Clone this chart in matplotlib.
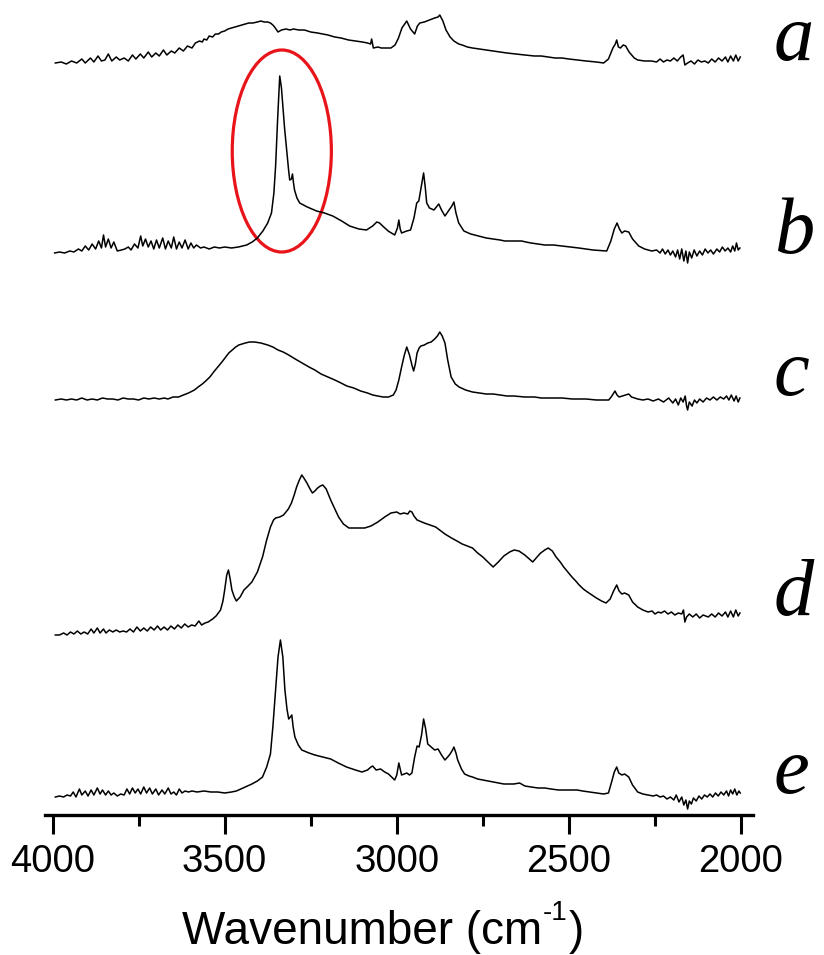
import numpy as np
import matplotlib
matplotlib.use("Agg")
import matplotlib.pyplot as plt
from matplotlib.patches import Ellipse
from matplotlib.ticker import MultipleLocator

# (wavenumber cm-1, intensity above own baseline)
spec_a = [(3992,0),(3975,1),(3960,-1),(3945,2),(3930,0),(3915,4),(3905,0),(3890,5),(3880,1),(3868,7),(3858,2),(3848,3),(3838,9),(3828,2),(3815,6),(3805,3),(3792,5),(3780,2),(3768,8),(3758,4),(3745,9),(3735,5),(3722,11),(3712,6),(3700,10),(3690,7),(3678,13),(3668,8),(3655,12),(3645,10),(3632,15),(3620,12),(3608,17),(3595,15),(3585,20),(3573,22),(3565,21),(3560,24),(3552,23),(3545,27),(3535,26),(3527,29),(3518,29),(3510,31),(3500,32),(3490,34),(3480,35),(3470,36),(3460,37),(3450,38),(3440,39),(3430,40),(3418,40),(3405,41),(3395,42),(3385,41),(3375,41),(3367,40),(3360,38),(3355,36),(3345,31),(3335,33),(3322,34),(3310,33),(3300,34),(3285,33),(3268,33),(3250,31),(3230,30),(3215,29),(3200,28),(3180,26),(3162,25),(3140,23),(3120,22),(3100,21),(3085,20),(3076,19),(3073,24),(3068,15),(3055,16),(3045,15),(3030,15),(3017,15),(3005,18),(2995,25),(2985,35),(2971,42),(2960,34),(2948,29),(2940,37),(2933,40),(2920,41),(2905,43),(2890,45),(2880,46),(2875,48),(2866,42),(2857,33),(2845,26),(2834,22),(2820,19),(2810,18),(2795,16),(2780,15),(2760,14),(2740,13),(2720,12),(2700,11),(2680,10),(2655,9),(2628,8),(2600,7),(2580,7),(2560,6),(2540,5),(2520,5),(2500,4),(2476,3),(2450,2),(2420,1),(2399,0),(2385,4),(2372,15),(2365,19),(2361,23),(2356,16),(2350,15),(2342,18),(2335,17),(2325,11),(2310,5),(2300,3),(2280,2),(2260,2),(2245,1),(2235,4),(2225,1),(2215,3),(2205,2),(2195,5),(2185,2),(2175,6),(2168,8),(2163,-2),(2155,0),(2145,2),(2135,-1),(2125,3),(2115,1),(2105,2),(2095,0),(2085,4),(2075,1),(2065,5),(2055,2),(2045,6),(2038,1),(2030,7),(2022,2),(2015,8),(2008,2),(2002,6)]

spec_b = [(3994,0),(3980,1),(3965,0),(3950,2),(3938,1),(3925,4),(3915,2),(3905,7),(3895,3),(3885,9),(3875,4),(3866,12),(3858,5),(3852,18),(3846,6),(3838,14),(3830,5),(3822,11),(3812,2),(3800,3),(3790,4),(3780,6),(3772,3),(3762,9),(3752,5),(3744,17),(3738,7),(3730,14),(3722,6),(3714,12),(3706,4),(3698,13),(3690,5),(3680,15),(3672,4),(3664,12),(3655,5),(3648,16),(3640,4),(3632,11),(3624,5),(3615,13),(3606,4),(3598,10),(3590,5),(3582,8),(3570,5),(3560,6),(3545,4),(3530,6),(3515,5),(3500,6),(3480,5),(3460,6),(3436,8),(3420,11),(3405,15),(3389,22),(3375,30),(3364,40),(3357,60),(3352,87),(3346,135),(3340,177),(3335,165),(3331,147),(3326,125),(3320,103),(3314,82),(3311,73),(3306,74),(3303,79),(3300,70),(3297,63),(3290,55),(3282,50),(3260,46),(3233,42),(3210,40),(3186,37),(3160,32),(3137,27),(3110,24),(3088,23),(3070,27),(3058,31),(3050,30),(3041,27),(3025,22),(3006,18),(2998,25),(2994,33),(2990,24),(2986,20),(2971,22),(2960,23),(2950,35),(2942,50),(2936,52),(2928,68),(2922,80),(2917,65),(2913,50),(2905,45),(2892,43),(2885,46),(2878,49),(2870,43),(2860,37),(2850,42),(2840,47),(2834,51),(2828,40),(2820,30),(2805,22),(2785,19),(2762,17),(2740,15),(2720,14),(2700,13),(2686,12),(2660,12),(2637,12),(2625,11),(2610,10),(2590,9),(2570,8),(2545,8),(2520,7),(2495,6),(2471,5),(2450,4),(2430,3),(2390,2),(2378,12),(2368,24),(2360,30),(2353,24),(2346,20),(2338,22),(2326,21),(2315,14),(2297,7),(2280,4),(2259,2),(2245,3),(2235,0),(2228,4),(2220,-1),(2212,3),(2205,-2),(2198,2),(2190,-4),(2184,3),(2178,-6),(2172,4),(2166,-8),(2160,2),(2155,-10),(2150,1),(2143,-5),(2136,3),(2128,-3),(2120,2),(2112,-2),(2104,4),(2096,0),(2088,3),(2080,-1),(2070,4),(2062,1),(2054,6),(2046,2),(2038,5),(2030,1),(2024,7),(2018,2),(2013,10),(2008,3),(2003,5)]

spec_c = [(3992,0),(3975,1),(3960,0),(3945,1),(3930,0),(3915,2),(3900,0),(3885,1),(3870,0),(3855,2),(3840,1),(3825,1),(3810,0),(3795,2),(3780,1),(3765,1),(3750,0),(3735,2),(3720,1),(3705,2),(3690,1),(3675,2),(3665,1),(3650,3),(3634,3),(3620,5),(3605,7),(3588,10),(3577,13),(3565,16),(3555,19),(3543,23),(3532,28),(3520,33),(3508,38),(3497,43),(3488,47),(3478,50),(3468,53),(3459,55),(3450,56),(3440,57),(3428,58),(3413,58),(3395,57),(3385,56),(3375,55),(3360,53),(3345,50),(3330,48),(3314,45),(3295,41),(3275,37),(3255,33),(3238,30),(3220,26),(3200,23),(3180,20),(3162,17),(3145,14),(3125,12),(3105,9),(3085,7),(3070,5),(3055,4),(3040,3),(3024,3),(3010,5),(3002,10),(2994,20),(2986,33),(2978,45),(2971,53),(2963,45),(2956,35),(2951,29),(2946,36),(2941,47),(2935,52),(2930,54),(2920,55),(2910,57),(2900,58),(2890,61),(2882,64),(2875,68),(2868,64),(2860,57),(2852,40),(2842,23),(2830,16),(2819,13),(2800,10),(2780,8),(2760,7),(2740,6),(2720,6),(2700,5),(2680,4),(2660,4),(2628,3),(2600,3),(2580,2),(2550,2),(2520,2),(2490,1),(2476,1),(2450,1),(2420,0),(2384,0),(2375,4),(2366,9),(2360,5),(2354,3),(2345,4),(2335,5),(2326,6),(2318,3),(2300,1),(2285,0),(2270,1),(2255,-1),(2240,1),(2225,-2),(2210,2),(2198,-3),(2190,1),(2182,-5),(2175,2),(2168,-2),(2162,4),(2158,-6),(2155,-10),(2150,-2),(2142,-6),(2135,0),(2128,-3),(2120,1),(2110,-2),(2100,2),(2090,0),(2080,3),(2070,0),(2060,3),(2050,1),(2042,4),(2035,0),(2028,5),(2020,-1),(2014,4),(2008,-2),(2003,2)]

spec_d = [(3992,0),(3980,0),(3968,2),(3958,0),(3948,3),(3938,1),(3928,4),(3918,1),(3908,3),(3898,1),(3888,6),(3880,2),(3870,7),(3862,2),(3852,6),(3845,2),(3835,5),(3825,3),(3815,5),(3805,3),(3795,4),(3785,3),(3775,6),(3765,3),(3755,8),(3745,4),(3735,7),(3725,4),(3715,8),(3705,5),(3695,9),(3686,5),(3676,8),(3666,5),(3656,9),(3646,6),(3636,10),(3626,7),(3616,11),(3606,8),(3596,10),(3586,9),(3575,14),(3567,10),(3557,12),(3548,13),(3535,16),(3525,19),(3512,25),(3505,34),(3500,45),(3494,60),(3489,65),(3484,56),(3479,45),(3472,38),(3466,34),(3455,38),(3444,45),(3432,49),(3421,53),(3405,63),(3390,78),(3378,95),(3367,108),(3358,115),(3352,117),(3340,118),(3329,120),(3315,126),(3306,132),(3298,140),(3291,148),(3283,155),(3276,160),(3270,157),(3261,152),(3252,146),(3245,142),(3238,144),(3230,147),(3222,149),(3215,150),(3205,146),(3192,135),(3180,126),(3169,118),(3155,111),(3139,107),(3115,107),(3093,107),(3075,109),(3055,113),(3035,118),(3017,122),(3000,123),(2990,121),(2979,122),(2968,121),(2962,124),(2956,123),(2950,119),(2941,115),(2920,112),(2887,108),(2860,101),(2841,97),(2825,94),(2810,91),(2795,89),(2780,87),(2765,82),(2750,78),(2735,73),(2720,68),(2705,73),(2689,79),(2672,83),(2659,85),(2645,84),(2628,80),(2615,76),(2605,73),(2595,77),(2582,82),(2570,85),(2560,87),(2548,84),(2537,78),(2525,73),(2515,68),(2503,63),(2491,58),(2480,54),(2470,50),(2458,46),(2446,43),(2433,40),(2420,37),(2405,34),(2392,32),(2380,36),(2370,44),(2361,50),(2354,44),(2346,41),(2338,42),(2326,40),(2315,33),(2300,28),(2285,25),(2270,23),(2258,24),(2250,21),(2240,23),(2232,22),(2222,24),(2212,21),(2202,23),(2192,20),(2182,22),(2172,21),(2167,25),(2163,13),(2158,18),(2150,21),(2140,18),(2130,21),(2120,17),(2110,20),(2095,18),(2085,21),(2075,18),(2065,22),(2055,19),(2045,23),(2038,18),(2030,24),(2022,18),(2015,25),(2008,19),(2003,22)]

spec_e = [(3992,0),(3980,1),(3968,0),(3958,2),(3948,1),(3940,5),(3932,0),(3922,8),(3915,2),(3905,6),(3897,1),(3888,7),(3880,2),(3870,9),(3862,3),(3855,7),(3846,2),(3838,6),(3830,2),(3822,4),(3812,1),(3802,3),(3792,2),(3784,8),(3776,3),(3768,9),(3760,4),(3752,8),(3744,3),(3735,10),(3727,4),(3718,9),(3710,3),(3700,8),(3692,2),(3682,7),(3674,3),(3664,9),(3656,3),(3648,5),(3640,2),(3632,8),(3624,4),(3615,6),(3605,5),(3595,6),(3580,5),(3560,6),(3540,5),(3520,5),(3500,4),(3480,5),(3466,6),(3440,10),(3421,13),(3405,16),(3390,20),(3378,30),(3367,43),(3360,70),(3352,107),(3345,140),(3338,157),(3331,140),(3325,107),(3319,88),(3314,78),(3309,80),(3305,82),(3301,70),(3296,60),(3286,52),(3276,47),(3255,44),(3238,42),(3215,40),(3192,38),(3170,34),(3146,30),(3120,27),(3101,25),(3085,27),(3075,30),(3070,31),(3060,27),(3047,28),(3035,25),(3024,23),(3015,20),(3006,17),(3000,22),(2994,34),(2990,28),(2986,22),(2978,23),(2971,24),(2963,22),(2956,24),(2948,40),(2941,51),(2935,50),(2928,62),(2922,78),(2916,68),(2910,53),(2900,50),(2890,47),(2880,48),(2870,42),(2860,37),(2852,40),(2845,43),(2838,47),(2834,50),(2828,44),(2823,37),(2812,28),(2803,23),(2790,21),(2780,20),(2765,18),(2750,17),(2735,16),(2720,15),(2705,14),(2689,13),(2675,13),(2660,13),(2643,14),(2628,11),(2610,10),(2590,9),(2570,9),(2552,8),(2530,7),(2510,7),(2490,7),(2476,7),(2460,6),(2440,5),(2420,4),(2399,3),(2385,4),(2375,16),(2368,25),(2361,30),(2355,24),(2346,22),(2338,23),(2326,20),(2315,12),(2300,5),(2285,3),(2270,2),(2255,1),(2245,2),(2235,0),(2225,1),(2215,-2),(2205,0),(2195,-3),(2188,2),(2180,-5),(2172,0),(2166,-8),(2160,-3),(2155,-12),(2150,-4),(2144,-7),(2138,-1),(2130,-4),(2122,1),(2114,-2),(2106,2),(2098,0),(2090,3),(2082,0),(2074,4),(2066,1),(2058,5),(2050,2),(2042,6),(2036,1),(2030,7),(2024,3),(2018,8),(2012,2),(2006,6),(2002,4)]

spectra = [spec_a, spec_b, spec_c, spec_d, spec_e]
labels = ["a", "b", "c", "d", "e"]
offsets = [752, 562, 415, 180, 18]
label_y = [60, 253, 395, 615, 793]   # baseline of the letters, px from top

W, H = 824, 955
fig = plt.figure(figsize=(W / 100, H / 100), dpi=100)
ax = fig.add_axes([45 / W, (H - 815) / H, (753 - 45) / W, 815 / H])

for spec, off in zip(spectra, offsets):
    arr = np.array(spec, dtype=float)
    ax.plot(arr[:, 0], arr[:, 1] + off, color="black", lw=1.1)

# highlight of the N-H band in spectrum b
ax.add_patch(Ellipse((3334, 664), 288, 202, fill=False, edgecolor="#e8141a", lw=2.3))

ax.set_xlim(4022, 1965)
ax.set_ylim(0, 815)
for s in ["top", "right", "left"]:
    ax.spines[s].set_visible(False)
ax.spines["bottom"].set_linewidth(2.4)
ax.set_yticks([])
ax.xaxis.set_major_locator(MultipleLocator(500))
ax.xaxis.set_minor_locator(MultipleLocator(250))
ax.tick_params(axis="x", which="major", direction="out", length=14, width=2.2,
               labelsize=27.5, pad=7)
ax.tick_params(axis="x", which="minor", direction="out", length=8, width=2.2)
for t in ax.get_xticklabels():
    t.set_fontfamily("Liberation Sans")

# x label, with a plain hyphen in the superscript like the original
base_y = 1 - 944 / H
t1 = fig.text(182 / W, base_y, "Wavenumber (cm", ha="left", va="baseline",
              fontsize=33, family="Liberation Sans")
fig.canvas.draw()
r = fig.canvas.get_renderer()
x1 = t1.get_window_extent(r).x1
t2 = fig.text((x1 + 1) / W, base_y + 24 / H, "-1", ha="left", va="baseline",
              fontsize=20, family="Liberation Sans")
x2 = t2.get_window_extent(r).x1
fig.text((x2 + 1) / W, base_y, ")", ha="left", va="baseline",
         fontsize=33, family="Liberation Sans")

for lab, ly in zip(labels, label_y):
    fig.text(774 / W, 1 - ly / H, lab, ha="left", va="baseline", fontsize=58,
             family="Liberation Serif", style="italic")

fig.savefig("out.png", dpi=100)
